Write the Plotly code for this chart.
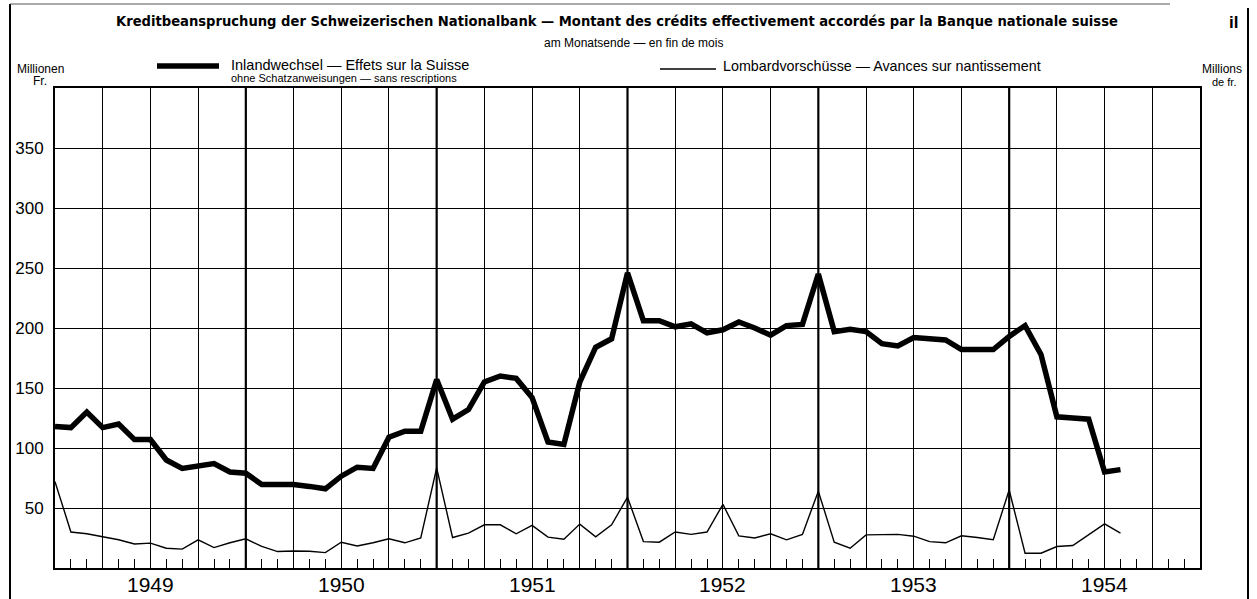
import plotly.graph_objects as go

# ---- data (month-end values, Dec 1948 .. Jul 1954), millions of francs ----
years = [1949, 1950, 1951, 1952, 1953, 1954]
y_ticks = [50, 100, 150, 200, 250, 300, 350]

inlandwechsel = [
    118, 117, 130, 117, 120, 107, 107, 90, 83, 85, 87, 80,          # Dec48..Nov49
    79, 69.5, 69.5, 69.5, 68, 66, 76.5, 84, 83, 109, 114, 114,      # Dec49..Nov50
    157, 124, 132, 155, 160, 158, 142, 105, 103, 155, 184, 191,     # Dec50..Nov51
    246, 206, 206, 201, 203.5, 196, 198.5, 205, 200, 194, 202, 203, # Dec51..Nov52
    245, 197, 199, 197, 187, 185, 192, 191, 190, 182, 182, 182,     # Dec52..Nov53
    193, 202, 178, 126, 125, 124, 80, 82,                           # Dec53..Jul54
]
lombard = [
    72, 30, 28.5, 26, 23.5, 20, 20.7, 16.5, 15.7, 23.5, 17, 21,
    24.3, 18, 13.7, 14.2, 14, 12.8, 21.5, 18.4, 21, 24.3, 21, 25,
    83.5, 25.4, 29, 36, 36, 28.5, 35.5, 25.7, 24, 36.6, 26, 36,
    59, 22, 21.5, 30, 28, 30, 53, 26.8, 25, 28.5, 23.5, 28,
    64, 21.5, 16.5, 27.6, 27.6, 28, 26.5, 22, 21, 26.8, 25.4, 23.5,
    65, 12.3, 12.3, 17.9, 18.7, 27.6, 36.8, 29,
]
months = list(range(len(inlandwechsel)))  # 0 = end of December 1948

W, H = 1257, 599
L, R, T, B = 55, 57, 88, 31
PW, PH = W - L - R, H - T - B


def px(x):
    return (x - L) / PW


def py(y):
    return (H - B - y) / PH


FONT = "Liberation Sans"
COND = "DejaVu Sans Condensed, DejaVu Sans"

fig = go.Figure()
fig.add_trace(go.Scatter(x=months, y=inlandwechsel, mode="lines",
                         line=dict(color="black", width=5.5), showlegend=False,
                         hoverinfo="skip"))
fig.add_trace(go.Scatter(x=months, y=lombard, mode="lines",
                         line=dict(color="black", width=1.4), showlegend=False,
                         hoverinfo="skip"))

n_months = 12 * len(years)
fig.update_xaxes(range=[0, n_months], showgrid=True, gridcolor="black", gridwidth=1,
                 dtick=3, tick0=0, ticks="inside", ticklen=9, tickcolor="black",
                 tickwidth=1, showticklabels=False, zeroline=False,
                 showline=True, linecolor="black", linewidth=2, mirror=True,
                 minor=dict(dtick=1, tick0=0, ticks="inside", ticklen=9,
                            tickcolor="black", tickwidth=1, showgrid=False))
fig.update_yaxes(range=[0, 400], tickvals=y_ticks, showgrid=True, gridcolor="black",
                 gridwidth=1, zeroline=False, showline=True, linecolor="black",
                 linewidth=2, mirror=True, ticks="", ticklabelstandoff=6,
                 tickfont=dict(family=FONT, size=17, color="black"))
fig.update_layout(
    yaxis2=dict(overlaying="y", side="right", range=[0, 400], tickvals=y_ticks,
                showgrid=False, zeroline=False, ticks="", ticklabelstandoff=8,
                tickfont=dict(family=FONT, size=17, color="black")),
)

shapes = []
# thicker year boundaries
for i in range(1, len(years)):
    shapes.append(dict(type="line", xref="x", yref="paper", x0=12 * i, x1=12 * i,
                       y0=0, y1=1, line=dict(color="black", width=2.2)))
# legend line samples
shapes.append(dict(type="line", xref="paper", yref="paper", x0=px(157), x1=px(219),
                   y0=py(66), y1=py(66), line=dict(color="black", width=5.5)))
shapes.append(dict(type="line", xref="paper", yref="paper", x0=px(660), x1=px(716),
                   y0=py(69), y1=py(69), line=dict(color="black", width=1.3)))
# page frame
shapes.append(dict(type="line", xref="paper", yref="paper", x0=px(10), x1=px(10),
                   y0=py(4), y1=py(599), line=dict(color="black", width=2)))
shapes.append(dict(type="line", xref="paper", yref="paper", x0=px(1248), x1=px(1248),
                   y0=py(8), y1=py(599), line=dict(color="black", width=2)))
shapes.append(dict(type="line", xref="paper", yref="paper", x0=px(10), x1=px(1170),
                   y0=py(4), y1=py(4), line=dict(color="#555", width=1)))

annotations = []
for i, yr in enumerate(years):
    annotations.append(dict(x=12 * i + 6, y=py(584), xref="x", yref="paper",
                            text=str(yr), showarrow=False,
                            font=dict(family=FONT, size=21, color="black"),
                            xanchor="center", yanchor="middle"))


def txt(x, y, s, size, family=FONT, anchor="left", bold=False):
    if bold:
        s = "<b>" + s + "</b>"
    annotations.append(dict(x=px(x), y=py(y), xref="paper", yref="paper", text=s,
                            showarrow=False, xanchor=anchor, yanchor="middle",
                            font=dict(family=family, size=size, color="black")))


txt(617, 20, "Kreditbeanspruchung der Schweizerischen Nationalbank — Montant des crédits "
    "effectivement accordés par la Banque nationale suisse", 14.6, COND, "center", True)
txt(633, 43, "am Monatsende — en fin de mois", 12, FONT, "center")
txt(229, 65, "Inlandwechsel — Effets sur la Suisse", 14.5)
txt(229, 78, "ohne Schatzanweisungen — sans rescriptions", 11)
txt(721, 66, "Lombardvorschüsse — Avances sur nantissement", 14.3)
txt(40, 69, "Millionen", 12, FONT, "center")
txt(40, 81, "Fr.", 12, FONT, "center")
txt(1222, 69, "Millions", 12, FONT, "center")
txt(1224, 82, "de fr.", 11, FONT, "center")
txt(1233, 22, "il", 17, FONT, "center", True)

fig.update_layout(width=W, height=H, margin=dict(l=L, r=R, t=T, b=B),
                  paper_bgcolor="white", plot_bgcolor="white",
                  shapes=shapes, annotations=annotations, showlegend=False)

fig.write_html("out.html", config={"displayModeBar": False},
               post_script="document.body.style.margin='0';")
